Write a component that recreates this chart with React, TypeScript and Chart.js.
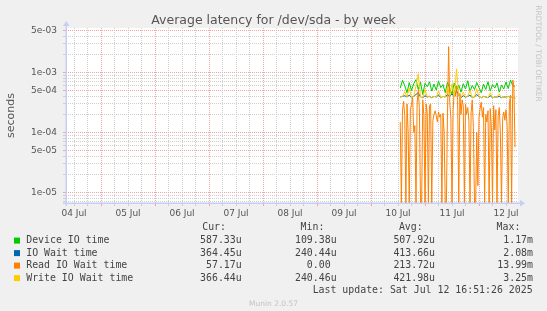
import React, { useEffect, useRef } from "react";
import { Chart, registerables } from "chart.js";
Chart.register(...registerables);

// time axis: hours since 04 Jul 00:00
const X_MIN = 8.44;
const X_MAX = 209.33;
const START_HOUR = 157; // 10 Jul 13:00
const STEP_HOURS = 1; // hourly samples for device / wait / write
const READ_STEP_HOURS = 0.5; // half-hour samples for read wait
const dayLabels = ["04 Jul", "05 Jul", "06 Jul", "07 Jul", "08 Jul", "09 Jul", "10 Jul", "11 Jul", "12 Jul"];

const Y_MIN = 6.68e-6;
const Y_MAX = 5.515e-3;
const yMajorTicks = [1e-5, 5e-5, 1e-4, 5e-4, 1e-3, 5e-3];
const yTickLabels = ["1e-05", "5e-05", "1e-04", "5e-04", "1e-03", "5e-03"];
const yMinorTicks = [7e-6, 8e-6, 9e-6, 2e-5, 3e-5, 4e-5, 6e-5, 7e-5, 8e-5, 9e-5, 2e-4, 3e-4, 4e-4, 6e-4, 7e-4, 8e-4, 9e-4, 2e-3, 3e-3, 4e-3];

const deviceIO = [
  5.5e-4, 7.4e-4, 6.0e-4, 4.6e-4, 6.8e-4, 5.0e-4, 6.5e-4, 7.6e-4, 5.2e-4, 6.9e-4,
  4.3e-4, 6.6e-4, 5.8e-4, 7.0e-4, 4.9e-4, 6.4e-4, 5.1e-4, 7.2e-4, 5.6e-4, 6.3e-4,
  4.6e-4, 6.9e-4, 5.4e-4, 4.4e-4, 6.7e-4, 5.0e-4, 6.2e-4, 4.7e-4, 6.5e-4, 5.3e-4,
  7.3e-4, 4.8e-4, 6.1e-4, 5.2e-4, 6.8e-4, 5.6e-4, 4.6e-4, 6.4e-4, 5.2e-4, 7.0e-4,
  4.9e-4, 6.3e-4, 5.5e-4, 6.7e-4, 4.7e-4, 6.2e-4, 5.3e-4, 6.9e-4, 5.4e-4, 7.5e-4,
  6.0e-4, 5.87e-4,
];
const ioWait = [
  3.9e-4, 4.0e-4, 4.1e-4, 3.9e-4, 4.2e-4, 3.8e-4, 4.0e-4, 4.3e-4, 4.6e-4, 3.9e-4,
  3.8e-4, 4.1e-4, 3.9e-4, 4.0e-4, 3.8e-4, 4.0e-4, 3.9e-4, 4.2e-4, 3.8e-4, 4.0e-4,
  3.9e-4, 4.3e-4, 4.0e-4, 4.4e-4, 3.9e-4, 5.0e-4, 4.1e-4, 3.8e-4, 4.1e-4, 3.9e-4,
  4.0e-4, 4.2e-4, 3.8e-4, 3.9e-4, 4.3e-4, 3.9e-4, 3.8e-4, 4.0e-4, 3.9e-4, 3.8e-4,
  4.1e-4, 3.8e-4, 3.9e-4, 3.9e-4, 4.0e-4, 3.8e-4, 3.9e-4, 3.9e-4, 4.0e-4, 3.8e-4,
  4.0e-4, 3.64e-4,
];
const readWait = [
  1.5e-4, 0, 2.4e-4, 3.3e-4, 1.9e-4, 0, 3.0e-4, 1.0e-4, 0, 2.5e-4,
  2.9e-4, 3.8e-4, 1.0e-4, 1.3e-4, 0, 3.1e-4, 5.0e-4, 2.5e-4, 0, 0,
  3.5e-4, 1.9e-4, 0, 3.0e-4, 2.1e-4, 0, 2.8e-4, 3.0e-4, 0, 1.6e-4,
  2.0e-4, 2.3e-4, 1.9e-4, 1.5e-4, 2.2e-4, 1.8e-4, 2.0e-4, 0, 2.1e-4, 1.0e-4,
  0, 0, 2.1e-4, 2.7e-3, 3.2e-4, 1.7e-4, 0, 2.4e-4, 5.0e-4, 4.0e-4,
  6.0e-4, 3.5e-4, 0, 4.5e-4, 2.0e-4, 3.5e-4, 2.8e-4, 0, 3.0e-4, 2.0e-4,
  2.6e-4, 1.6e-4, 0, 2.2e-4, 3.5e-4, 1.2e-4, 0, 0, 1.0e-4, 1.3e-5,
  1.8e-4, 2.5e-4, 3.2e-4, 1.8e-4, 2.6e-4, 0, 2.0e-4, 1.5e-4, 2.3e-4, 0,
  2.5e-4, 1.2e-4, 0, 2.8e-4, 1.1e-4, 2.4e-4, 0, 1.9e-4, 2.6e-4, 1.0e-4,
  0, 1.7e-4, 2.2e-4, 1.6e-4, 2.4e-4, 1.3e-4, 0, 3.0e-4, 4.2e-4, 0,
  7.5e-4, 6.0e-4, 5.7e-5,
];
const writeWait = [
  3.9e-4, 4.0e-4, 4.8e-4, 3.9e-4, 5.5e-4, 3.8e-4, 4.0e-4, 6.0e-4, 9.5e-4, 3.9e-4,
  3.8e-4, 5.2e-4, 3.9e-4, 4.0e-4, 3.8e-4, 4.0e-4, 3.9e-4, 5.0e-4, 3.8e-4, 4.0e-4,
  3.9e-4, 5.8e-4, 4.0e-4, 6.5e-4, 3.9e-4, 1.15e-3, 4.1e-4, 3.8e-4, 4.7e-4, 3.9e-4,
  4.0e-4, 5.1e-4, 3.8e-4, 3.9e-4, 5.4e-4, 3.9e-4, 3.8e-4, 4.0e-4, 3.9e-4, 3.8e-4,
  4.6e-4, 3.8e-4, 3.9e-4, 3.9e-4, 4.4e-4, 3.8e-4, 3.9e-4, 3.9e-4, 4.0e-4, 3.8e-4,
  4.0e-4, 3.66e-4,
];

const seriesNames = ["Device IO time", "IO Wait time", "Read IO Wait time", "Write IO Wait time"];
const seriesColors = ["#00CC00", "#0066B3", "#FF8000", "#FFCC00"];
const curValues = ["587.33u", "364.45u", "57.17u", "366.44u"];
const minValues = ["109.38u", "240.44u", "0.00", "240.46u"];
const avgValues = ["507.92u", "413.66u", "213.72u", "421.98u"];
const maxValues = ["1.17m", "2.08m", "13.99m", "3.25m"];

const TITLE = "Average latency for /dev/sda - by week";
const LAST_UPDATE = "Last update: Sat Jul 12 16:51:26 2025";

const RED = "#F3A3A3";
const GREY = "#CFCFCF";
const AXIS = "#C6CDF6";

const toPoints = (arr: number[], step: number) =>
  arr.map((v, i) => ({ x: START_HOUR + i * step, y: v > 0 ? v : Y_MIN }));

const decor = {
  id: "decor",
  beforeDraw(chart: any) {
    const { ctx, chartArea: a } = chart;
    ctx.save();
    ctx.fillStyle = "#F0F0F0";
    ctx.fillRect(0, 0, chart.width, chart.height);
    ctx.fillStyle = "#FFFFFF";
    ctx.fillRect(a.left, a.top, a.right - a.left, a.bottom - a.top);
    ctx.restore();
  },
  afterDraw(chart: any) {
    const { ctx, chartArea: a } = chart;
    ctx.save();
    // axes
    ctx.fillStyle = AXIS;
    ctx.fillRect(a.left - 0.5, a.top - 3, 1.5, a.bottom - a.top + 6);
    ctx.fillRect(a.left - 3, a.bottom - 0.5, a.right - a.left + 6, 1.5);
    // arrows
    ctx.beginPath();
    ctx.moveTo(a.left - 3, a.top - 2);
    ctx.lineTo(a.left + 3.5, a.top - 2);
    ctx.lineTo(a.left + 0.25, a.top - 7);
    ctx.closePath();
    ctx.fill();
    ctx.beginPath();
    ctx.moveTo(a.right + 2, a.bottom - 3);
    ctx.lineTo(a.right + 2, a.bottom + 3.5);
    ctx.lineTo(a.right + 7, a.bottom + 0.25);
    ctx.closePath();
    ctx.fill();

    // title
    ctx.fillStyle = "#555555";
    ctx.font = "12.5px 'DejaVu Sans'";
    ctx.textAlign = "center";
    ctx.textBaseline = "alphabetic";
    ctx.fillText(TITLE, 273.5, 24);

    // vertical unit label
    ctx.save();
    ctx.translate(11, (a.top + a.bottom) / 2);
    ctx.rotate(-Math.PI / 2);
    ctx.font = "11px 'DejaVu Sans'";
    ctx.textBaseline = "middle";
    ctx.fillText("seconds", 0, 0);
    ctx.restore();

    // rrdtool watermark
    ctx.save();
    ctx.translate(537.5, 53.5);
    ctx.rotate(Math.PI / 2);
    ctx.font = "7.5px 'DejaVu Sans'";
    ctx.fillStyle = "#C4C4C4";
    ctx.textBaseline = "middle";
    ctx.textAlign = "center";
    ctx.fillText("RRDTOOL / TOBI OETIKER", 0, 0);
    ctx.restore();

    // legend
    ctx.font = "9.9px 'DejaVu Sans Mono'";
    ctx.fillStyle = "#444444";
    ctx.textBaseline = "middle";
    ctx.textAlign = "right";
    const headY = 227.7;
    ctx.fillText("Cur:", 226, headY);
    ctx.fillText("Min:", 324.4, headY);
    ctx.fillText("Avg:", 422.7, headY);
    ctx.fillText("Max:", 520.4, headY);
    const colEnds = [241.7, 336.6, 435, 533];
    const pad = (s: string) => (/[0-9]$/.test(s) ? s + " " : s);
    for (let i = 0; i < seriesNames.length; i++) {
      const y = 240.6 + i * 12.5;
      ctx.fillStyle = seriesColors[i];
      ctx.fillRect(14, y - 3, 6, 6);
      ctx.fillStyle = "#444444";
      ctx.textAlign = "left";
      ctx.fillText(seriesNames[i], 26.2, y);
      ctx.textAlign = "right";
      ctx.fillText(pad(curValues[i]), colEnds[0], y);
      ctx.fillText(pad(minValues[i]), colEnds[1], y);
      ctx.fillText(pad(avgValues[i]), colEnds[2], y);
      ctx.fillText(pad(maxValues[i]), colEnds[3], y);
    }
    ctx.textAlign = "right";
    ctx.fillText(LAST_UPDATE, 532.6, 290.8);

    ctx.font = "7.5px 'DejaVu Sans'";
    ctx.fillStyle = "#C4C4C4";
    ctx.textAlign = "center";
    ctx.fillText("Munin 2.0.57", 273.5, 304);
    ctx.restore();
  },
};

export default function App() {
  const ref = useRef<HTMLCanvasElement | null>(null);
  useEffect(() => {
    if (!ref.current) return;
    const chart = new Chart(ref.current, {
      type: "line",
      data: {
        datasets: [
          { label: seriesNames[0], data: toPoints(deviceIO, STEP_HOURS), borderColor: seriesColors[0], order: 4 },
          { label: seriesNames[1], data: toPoints(ioWait, STEP_HOURS), borderColor: seriesColors[1], order: 3 },
          { label: seriesNames[2], data: toPoints(readWait, READ_STEP_HOURS), borderColor: seriesColors[2], order: 2 },
          { label: seriesNames[3], data: toPoints(writeWait, STEP_HOURS), borderColor: seriesColors[3], order: 1 },
        ].map((d) => ({ ...d, borderWidth: 1, pointRadius: 0, tension: 0, fill: false })),
      },
      options: {
        responsive: false,
        maintainAspectRatio: false,
        devicePixelRatio: 1,
        animation: false,
        events: [],
        layout: { padding: { left: 0, right: 29, top: 28, bottom: 88 } },
        plugins: { legend: { display: false }, tooltip: { enabled: false }, title: { display: false } },
        scales: {
          x: {
            type: "linear",
            min: X_MIN,
            max: X_MAX,
            bounds: "data",
            afterFit: (s: any) => { s.height = 20; },
            afterBuildTicks: (s: any) => {
              const t = [];
              for (let h = 12; h <= X_MAX; h += 6) t.push({ value: h });
              s.ticks = t;
            },
            ticks: {
              autoSkip: false,
              maxRotation: 0,
              minRotation: 0,
              padding: 2,
              color: "#555555",
              font: { family: "'DejaVu Sans'", size: 9 },
              callback: (v: any) => (v % 24 === 12 ? dayLabels[(v - 12) / 24] : ""),
            },
            grid: {
              color: (c: any) => (c.tick && c.tick.value % 24 === 0 ? RED : GREY),
              tickColor: (c: any) => (c.tick && c.tick.value % 24 === 0 ? RED : GREY),
              tickLength: 3,
              lineWidth: 1,
            },
            border: { display: false, dash: [1, 1] },
          },
          y: {
            type: "logarithmic",
            min: Y_MIN,
            max: Y_MAX,
            bounds: "data",
            afterFit: (s: any) => { s.width = 66; },
            afterBuildTicks: (s: any) => {
              s.ticks = [...yMinorTicks, ...yMajorTicks].sort((p, q) => p - q).map((v) => ({ value: v }));
            },
            ticks: {
              autoSkip: false,
              padding: 6,
              color: "#555555",
              font: { family: "'DejaVu Sans'", size: 9 },
              callback: (v: any) => {
                const k = yMajorTicks.findIndex((m) => Math.abs(m - v) / m < 1e-6);
                return k >= 0 ? yTickLabels[k] : "";
              },
            },
            grid: {
              color: (c: any) => (c.tick && yMajorTicks.some((m) => Math.abs(m - c.tick.value) / m < 1e-6) ? RED : GREY),
              tickColor: (c: any) => (c.tick && yMajorTicks.some((m) => Math.abs(m - c.tick.value) / m < 1e-6) ? RED : GREY),
              tickLength: 3,
              lineWidth: 1,
            },
            border: { display: false, dash: [1, 1] },
          },
        },
      } as any,
      plugins: [decor],
    });
    return () => chart.destroy();
  }, []);
  return (
    <div style={{ position: "absolute", left: 0, top: 0, width: 547, height: 311 }}>
      <canvas ref={ref} width={547} height={311} style={{ display: "block" }} />
    </div>
  );
}
